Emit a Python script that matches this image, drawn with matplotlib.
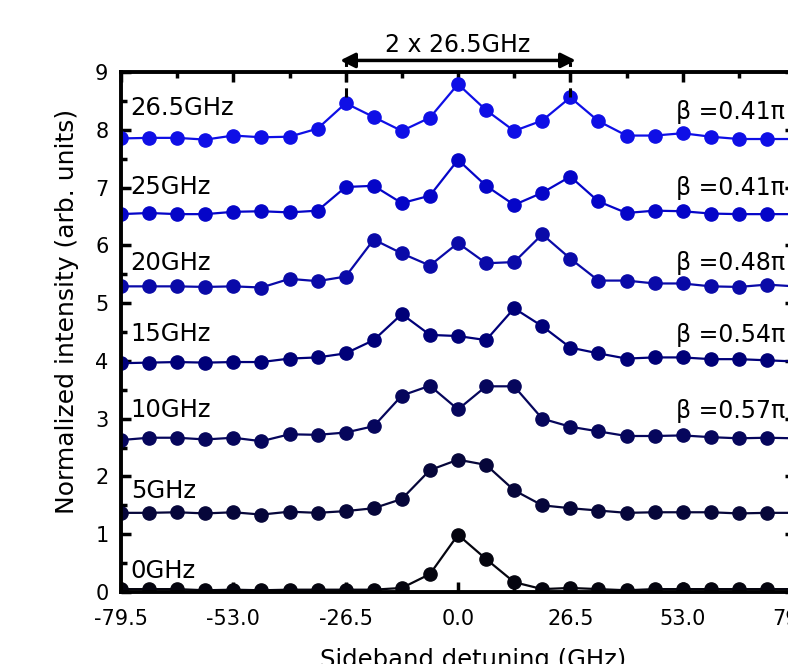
import numpy as np
import matplotlib
matplotlib.use("Agg")
import matplotlib.pyplot as plt
from matplotlib.ticker import MultipleLocator, FixedLocator

plt.rcParams['font.family'] = ['DejaVu Sans']

# sideband detuning (GHz), 25 sidebands spaced by 6.625 GHz
detuning = np.linspace(-79.5, 79.5, 25)

s0 = [0.05, 0.05, 0.05, 0.03, 0.04, 0.03, 0.04, 0.04, 0.04, 0.04, 0.07, 0.31, 0.99,
      0.57, 0.17, 0.05, 0.07, 0.05, 0.03, 0.05, 0.05, 0.05, 0.05, 0.05, 0.05]
s5 = [1.37, 1.37, 1.38, 1.36, 1.38, 1.34, 1.39, 1.37, 1.40, 1.45, 1.61, 2.11, 2.29,
      2.20, 1.76, 1.50, 1.45, 1.41, 1.37, 1.38, 1.38, 1.38, 1.36, 1.37, 1.37]
s10 = [2.63, 2.67, 2.67, 2.64, 2.67, 2.61, 2.73, 2.72, 2.76, 2.87, 3.40, 3.57, 3.16,
       3.56, 3.56, 3.00, 2.86, 2.78, 2.70, 2.70, 2.71, 2.68, 2.66, 2.67, 2.66]
s15 = [3.96, 3.97, 3.98, 3.97, 3.98, 3.98, 4.04, 4.06, 4.13, 4.36, 4.81, 4.45, 4.43,
       4.36, 4.91, 4.60, 4.23, 4.13, 4.04, 4.06, 4.06, 4.03, 4.03, 4.01, 3.99]
s20 = [5.29, 5.29, 5.29, 5.28, 5.29, 5.27, 5.42, 5.38, 5.46, 6.10, 5.86, 5.65, 6.04,
       5.69, 5.71, 6.19, 5.77, 5.39, 5.39, 5.34, 5.34, 5.29, 5.28, 5.32, 5.29]
s25 = [6.54, 6.56, 6.54, 6.54, 6.58, 6.59, 6.57, 6.60, 7.01, 7.03, 6.73, 6.86, 7.48,
       7.03, 6.70, 6.91, 7.19, 6.76, 6.56, 6.60, 6.59, 6.55, 6.54, 6.54, 6.54]
s265 = [7.85, 7.86, 7.86, 7.83, 7.90, 7.87, 7.88, 8.02, 8.46, 8.22, 7.98, 8.21, 8.79,
        8.34, 7.98, 8.16, 8.56, 8.15, 7.90, 7.90, 7.94, 7.88, 7.84, 7.84, 7.84]

series = [s0, s5, s10, s15, s20, s25, s265]
labels = ['0GHz', '5GHz', '10GHz', '15GHz', '20GHz', '25GHz', '26.5GHz']
label_y = [0.36, 1.75, 3.15, 4.47, 5.69, 7.01, 8.38]
betas = [None, None, 'β =0.57π', 'β =0.54π', 'β =0.48π', 'β =0.41π', 'β =0.41π']
beta_y = [None, None, 3.13, 4.45, 5.69, 6.99, 8.31]
colors = ['#05050f', '#06063a', '#06065c', '#000078', '#0a0aa8', '#0505c8', '#0f0fe6']

fig = plt.figure(figsize=(7.88, 6.64), dpi=100)
ax = fig.add_axes([121 / 788, 72 / 664, 674 / 788, 520 / 664])

for y, c in zip(series, colors):
    ax.plot(detuning, y, '-o', color=c, lw=1.6, ms=9.5, mec=c, mfc=c)

for lab, ly in zip(labels, label_y):
    ax.text(-77.2, ly, lab, fontsize=17.5, va='center', ha='left')
for b, by in zip(betas, beta_y):
    if b:
        ax.text(77.2, by, b, fontsize=17, va='center', ha='right')

ax.set_xlim(-79.5, 79.5)
ax.set_ylim(0, 9)
ax.xaxis.set_major_locator(FixedLocator([-79.5, -53, -26.5, 0, 26.5, 53, 79.5]))
ax.xaxis.set_minor_locator(MultipleLocator(13.25))
ax.yaxis.set_major_locator(MultipleLocator(1))
ax.yaxis.set_minor_locator(MultipleLocator(0.5))
ax.set_xticklabels(['-79.5', '-53.0', '-26.5', '0.0', '26.5', '53.0', '79.5'])
ax.tick_params(which='both', direction='in', top=True, right=True, width=2.5)
ax.tick_params(which='major', length=7)
ax.tick_params(which='minor', length=4)
ax.tick_params(axis='x', labelsize=15, pad=12)
ax.tick_params(axis='y', labelsize=15, pad=9)
for sp in ax.spines.values():
    sp.set_linewidth(2.8)

ax.set_ylabel('Normalized intensity (arb. units)', fontsize=18)
ax.yaxis.set_label_coords(-0.062, 0.54)
ax.set_xlabel('Sideband detuning (GHz)', fontsize=17.5)
ax.xaxis.set_label_coords(0.522, -0.108)

# spacing marker above the plot
for xm in (-26.5, 26.5):
    ax.plot([xm, xm], [8.57, 9.18], ls=(0, (3, 2)), color='k', lw=2.2, clip_on=False, zorder=5)
ax.annotate('', xy=(-27.8, 9.2), xytext=(27.8, 9.2),
            arrowprops=dict(arrowstyle='<|-|>', lw=2.5, color='k', mutation_scale=22,
                            shrinkA=0, shrinkB=0),
            annotation_clip=False)
ax.text(0, 9.47, '2 x 26.5GHz', fontsize=17, ha='center', va='center')

fig.savefig('out.png', dpi=100)
